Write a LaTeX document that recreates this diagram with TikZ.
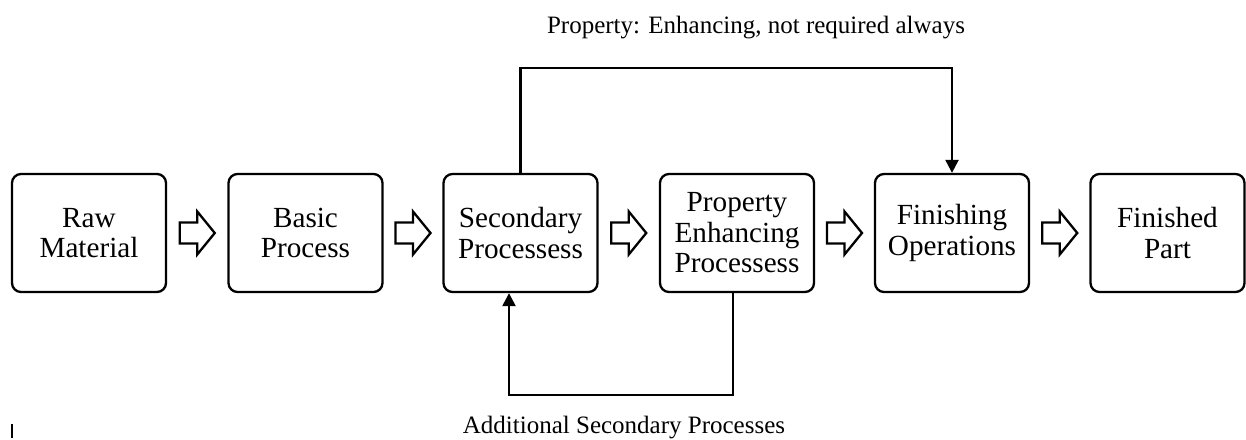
\documentclass[tikz,border=0pt]{standalone}
\usepackage{fontspec}
\setmainfont{Liberation Serif}
\usetikzlibrary{arrows.meta,calc}
\tikzset{
  procbox/.style={draw, line width=2.3pt, rounded corners=9pt, minimum width=154pt, minimum height=118pt, align=center, inner sep=0pt, font=\fontsize{29.2}{30.5}\selectfont},
  feedline/.style={draw, line width=2.3pt, -{Triangle[length=13pt,width=13pt]}},
  blockarrow/.style={draw, line width=2.3pt, line join=miter},
  lbl/.style={font=\fontsize{25}{30}\selectfont, inner sep=0pt}
}
\newcommand{\blockarr}[2]{%
  \draw[blockarrow, shift={($(#1.east)!0.5!(#2.west)$)}]
    (-17.5,-10.5) -- (0,-10.5) -- (0,-21.5) -- (17.5,0) -- (0,21.5) -- (0,10.5) -- (-17.5,10.5) -- cycle;}
\begin{document}
\begin{tikzpicture}[x=1pt,y=1pt]
\useasboundingbox (0,0) rectangle (1246,-439);
\node[procbox] (raw) at (89,-233) {Raw\\Material};
\node[procbox] (basic) at (305.5,-233) {Basic\\Process};
\node[procbox] (sec) at (520.5,-233) {Secondary\\Processess};
\node[procbox] (prop) at (737,-233) {Property\\Enhancing\\Processess};
\node[procbox] (fin) at (952,-233) {Finishing\\Operations};
\node[procbox] (part) at (1167.5,-233) {Finished\\Part};
\blockarr{raw}{basic}
\blockarr{basic}{sec}
\blockarr{sec}{prop}
\blockarr{prop}{fin}
\blockarr{fin}{part}
\draw[feedline] (sec.north) -- ++(0,105) -| (fin.north);
\draw[feedline] ($(prop.south)+(-4,0)$) -- ++(0,-102) -| ($(sec.south)+(-11.5,0)$);
\node[lbl, anchor=base] (toplbl) at (756,-33) {Property: Enhancing, not required always};
\node[lbl, anchor=base] (botlbl) at (624,-433) {Additional Secondary Processes};
\draw[line width=1.2pt] (12,-424) -- (12,-438);
\end{tikzpicture}
\end{document}
